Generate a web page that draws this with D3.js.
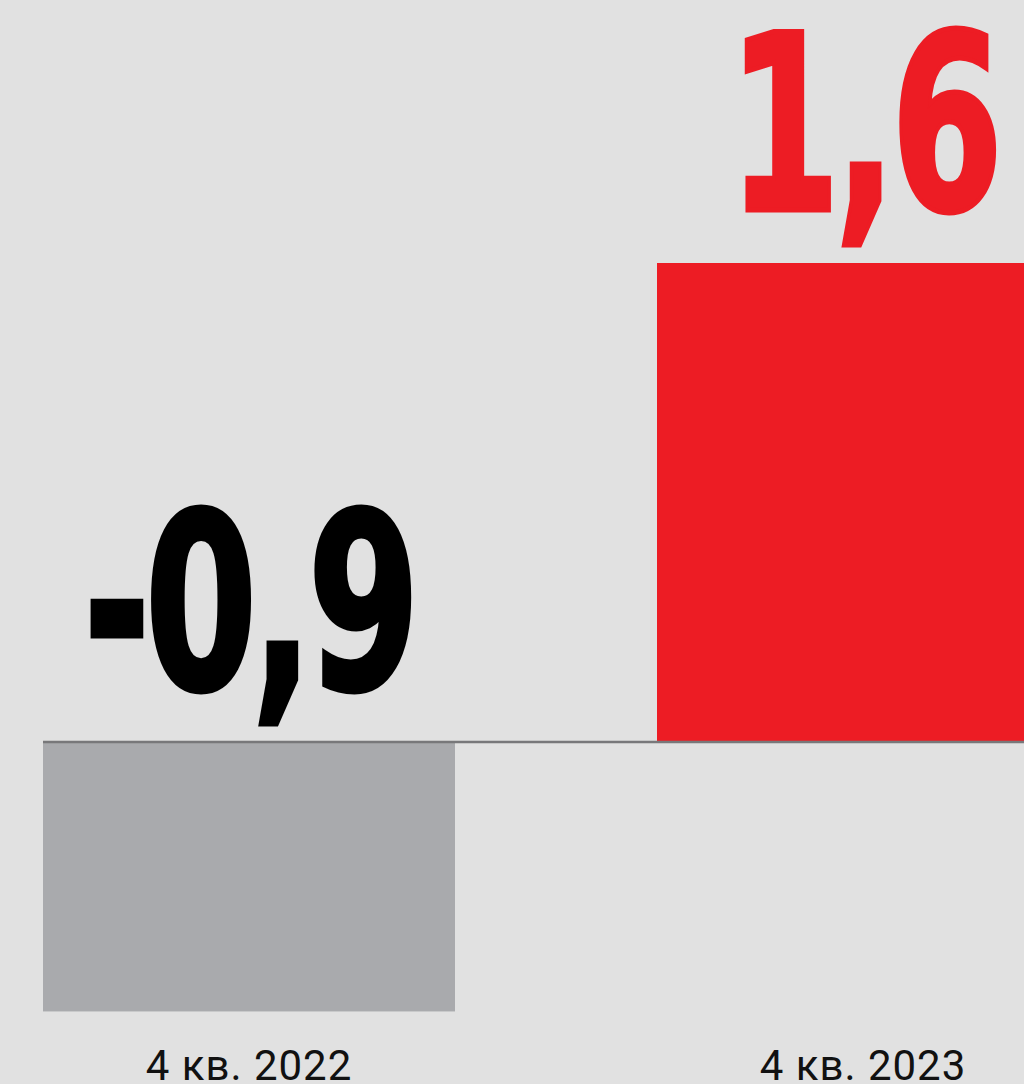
<!DOCTYPE html>
<html><head><meta charset="utf-8">
<script src="https://cdn.jsdelivr.net/npm/d3@7"></script>
<style>html,body{margin:0;padding:0;background:#e1e1e1;overflow:hidden}svg{display:block}</style>
</head><body><svg id="c" width="1024" height="1084"></svg>
<script>
const categories = ["4 кв. 2022", "4 кв. 2023"];
const values = [-0.9, 1.6];
const valueLabels = ["-0,9", "1,6"];
const barColors = ["#a9aaad", "#ed1c24"];
const labelColors = ["#000000", "#ed1c24"];

const W = 1024, H = 1084;
const svg = d3.select("#c");
svg.append("rect").attr("width", W).attr("height", H).attr("fill", "#e1e1e1");

const x = d3.scaleBand().domain(categories).range([43, 1069]).paddingInner(0.329).paddingOuter(0);
const y = d3.scaleLinear().domain([0, 1.6]).range([742, 263]);

const data = categories.map((c, i) => ({c, v: values[i], lab: valueLabels[i], col: barColors[i], lc: labelColors[i]}));

svg.selectAll("rect.bar").data(data).join("rect").attr("class", "bar")
  .attr("x", d => x(d.c)).attr("width", x.bandwidth())
  .attr("y", d => Math.min(y(d.v), y(0))).attr("height", d => Math.abs(y(d.v) - y(0)))
  .attr("fill", d => d.col);

svg.append("line").attr("x1", 43).attr("x2", W).attr("y1", y(0)).attr("y2", y(0))
  .attr("stroke", "#78787a").attr("stroke-width", 2.5);

svg.selectAll("text.val").data(data).join("text").attr("class", "val")
  .attr("text-anchor", "middle")
  .attr("font-family", "'DejaVu Sans', sans-serif")
  .attr("font-weight", "bold").attr("font-size", 244)
  .attr("letter-spacing", -8)
  .attr("fill", d => d.lc).attr("stroke", d => d.lc).attr("stroke-width", 5)
  .attr("stroke-linejoin", "miter")
  .attr("transform", d => {
    const cx = x(d.c) + x.bandwidth() / 2;
    const by = (d.v >= 0 ? y(d.v) : y(0)) - 53;
    return `translate(${cx},${by}) scale(0.66,1)`;
  })
  .text(d => d.lab);

svg.selectAll("text.cat").data(data).join("text").attr("class", "cat")
  .attr("text-anchor", "middle")
  .attr("font-family", "Roboto, 'Open Sans', sans-serif")
  .attr("font-size", 42).attr("letter-spacing", 1).attr("fill", "#111")
  .attr("x", d => x(d.c) + x.bandwidth() / 2).attr("y", 1080)
  .text(d => d.c);
</script></body></html>
